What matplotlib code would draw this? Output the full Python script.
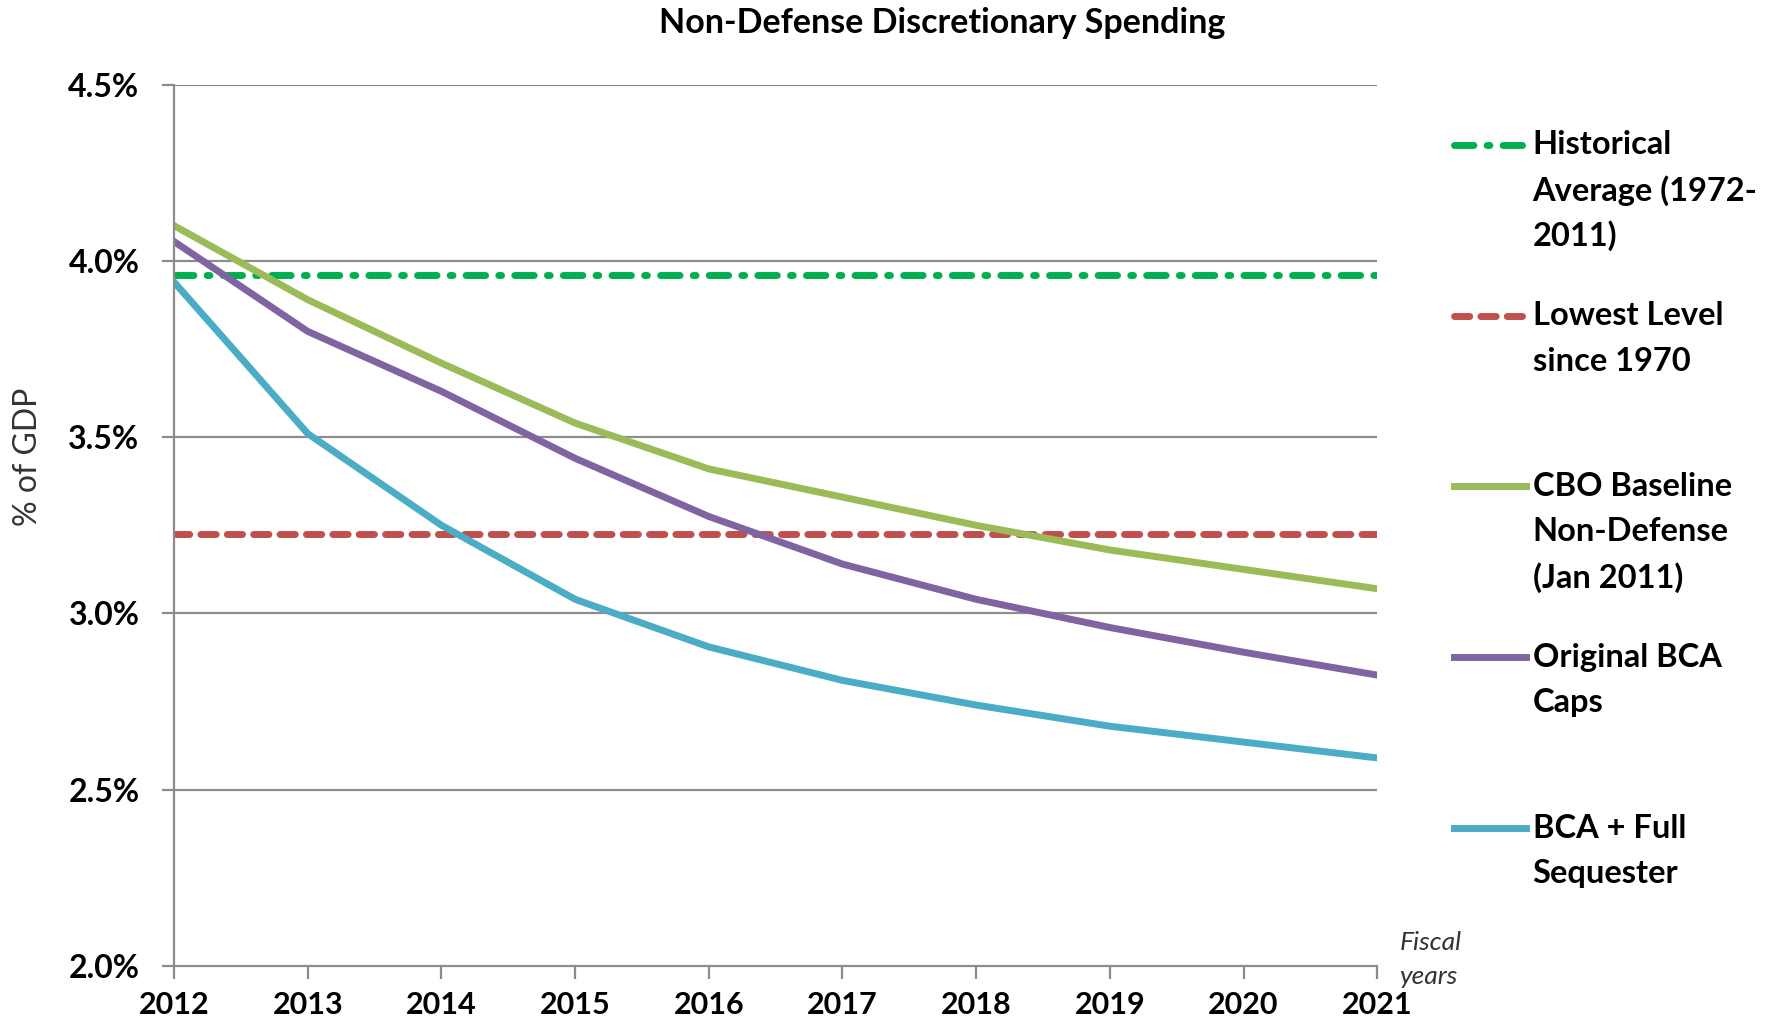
import matplotlib
matplotlib.use("Agg")
import matplotlib.pyplot as plt
from matplotlib.lines import Line2D
import numpy as np

years = [2012, 2013, 2014, 2015, 2016, 2017, 2018, 2019, 2020, 2021]
cbo_baseline = [4.10, 3.89, 3.71, 3.54, 3.41, 3.33, 3.25, 3.18, 3.125, 3.07]
original_bca = [4.055, 3.80, 3.63, 3.44, 3.275, 3.14, 3.04, 2.96, 2.89, 2.825]
bca_sequester = [3.94, 3.51, 3.25, 3.04, 2.905, 2.81, 2.74, 2.68, 2.635, 2.59]
historical_avg = 3.96
lowest_level = 3.225
y_ticks = [2.0, 2.5, 3.0, 3.5, 4.0, 4.5]

labels = ["Historical\nAverage (1972-\n2011)", "Lowest Level\nsince 1970",
          "CBO Baseline\nNon-Defense\n(Jan 2011)", "Original BCA\nCaps",
          "BCA + Full\nSequester"]

c_hist = "#00B050"
c_low = "#C0504D"
c_cbo = "#9BBB59"
c_orig = "#8064A2"
c_seq = "#4BACC6"

plt.rcParams['font.family'] = ['Lato', 'DejaVu Sans']

fig = plt.figure(figsize=(17.77, 10.21), dpi=100)
ax = fig.add_axes([0.098, 0.054, 0.677, 0.863])

lw = 5
ax.plot([years[0], years[-1]], [historical_avg] * 2, color=c_hist, lw=lw,
        dashes=(2.8, 1.9, 0.4, 1.9), solid_capstyle='round', dash_capstyle='round')
ax.plot([years[0], years[-1]], [lowest_level] * 2, color=c_low, lw=lw,
        dashes=(2.2, 1.6), dash_capstyle='round')
ax.plot(years, cbo_baseline, color=c_cbo, lw=lw, solid_joinstyle='round')
ax.plot(years, original_bca, color=c_orig, lw=lw, solid_joinstyle='round')
ax.plot(years, bca_sequester, color=c_seq, lw=lw, solid_joinstyle='round')

ax.set_xlim(years[0], years[-1])
ax.set_ylim(2.0, 4.5)
ax.set_yticks(y_ticks)
ax.set_yticklabels(["%.1f%%" % v for v in y_ticks])
ax.set_xticks(years)
ax.set_xticklabels([str(y) for y in years])
for v in y_ticks[1:]:
    ax.axhline(v, color="#8c8c8c", lw=1.6, zorder=0)

for s in ['top', 'right']:
    ax.spines[s].set_visible(False)
for s in ['left', 'bottom']:
    ax.spines[s].set_color("#8c8c8c")
    ax.spines[s].set_linewidth(1.6)
ax.tick_params(axis='both', colors="#8c8c8c", length=9, width=1.6, direction='out')
ax.tick_params(axis='y', labelcolor='black', labelsize=23, pad=16)
ax.tick_params(axis='x', labelcolor='black', labelsize=22, pad=9)
for t in ax.get_xticklabels() + ax.get_yticklabels():
    t.set_fontweight('bold')

fig.text(0.53, 0.977, "Non-Defense Discretionary Spending", ha='center', va='center',
         fontsize=24.5, fontweight='bold')
fig.text(0.016, 0.553, "% of GDP", rotation=90, ha='center', va='center',
         fontsize=23, color="#333333")
fig.text(0.7875, 0.077, "Fiscal", fontsize=19, style='italic', color="#333333", va='center')
fig.text(0.7875, 0.044, "years", fontsize=19, style='italic', color="#333333", va='center')

# legend drawn by hand
styles = [dict(color=c_hist, dashes=(2.8, 1.9, 0.4, 1.9)),
          dict(color=c_low, dashes=(2.2, 1.6)),
          dict(color=c_cbo), dict(color=c_orig), dict(color=c_seq)]
entry_px = [127, 277, 427, 577, 727]
step = 40
for lab, st, ypx in zip(labels, styles, entry_px):
    yf = 1 - ypx * 1.139 / 1021
    ln = Line2D([0.818, 0.859], [yf, yf], transform=fig.transFigure, lw=lw,
                dash_capstyle='round', **st)
    fig.add_artist(ln)
    for i, part in enumerate(lab.split("\n")):
        yy = 1 - (ypx + i * step) * 1.139 / 1021
        fig.text(0.8625, yy, part, fontsize=23.5, fontweight='bold', va='center')

fig.savefig("out.png", dpi=100)
